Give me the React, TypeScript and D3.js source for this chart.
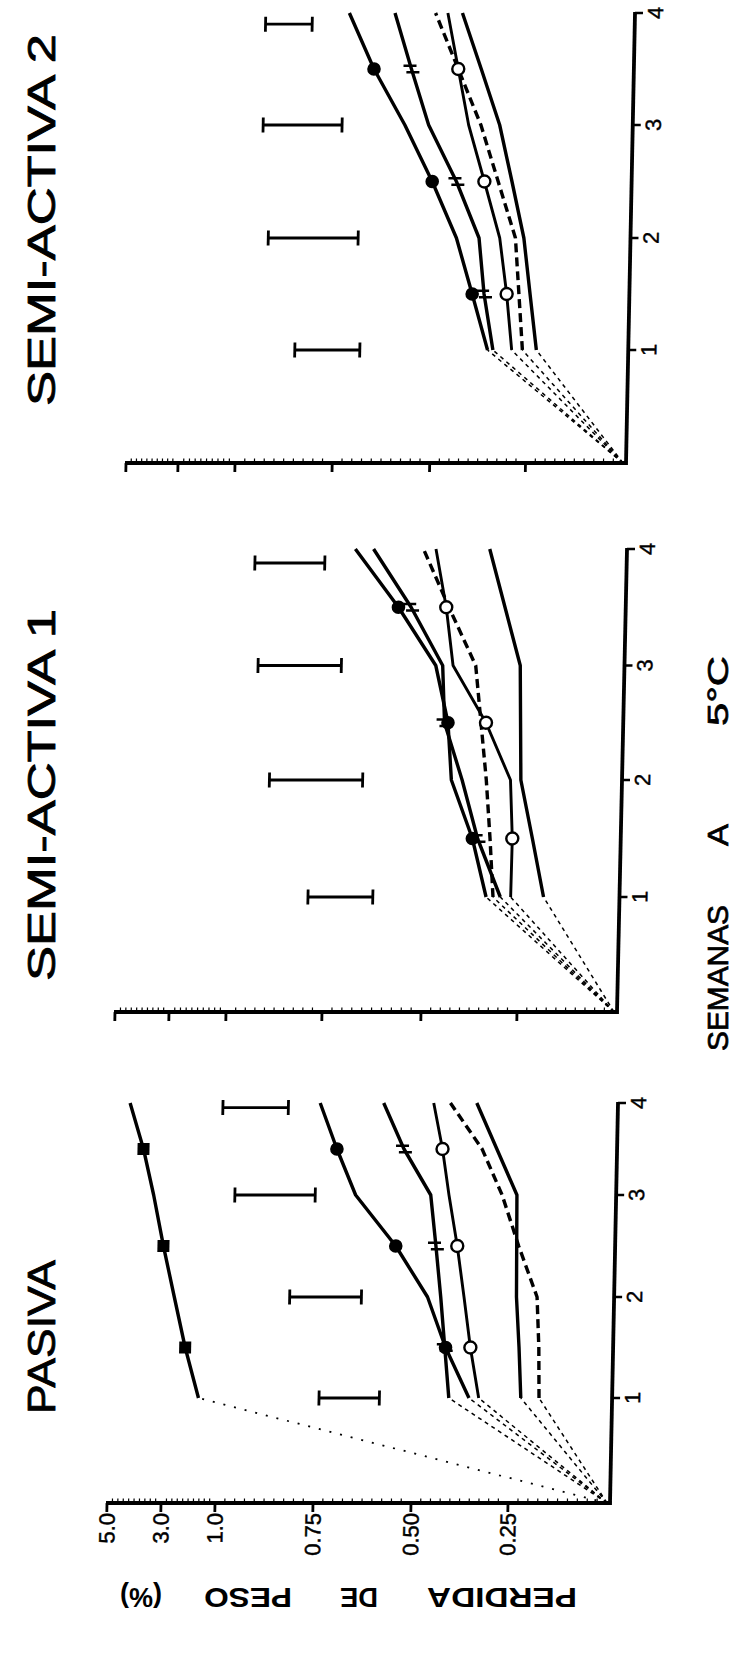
import React from 'react';
import * as d3 from 'd3';

// ---------- data ----------
const WEEKS = [1, 1.5, 2, 2.5, 3, 3.5, 4];
const MARKER_WEEKS = [1.5, 2.5, 3.5];
const WEEK_TICKS = [1, 2, 3, 4];
const WEEK_DOMAIN = [0, 1, 2, 3, 4];
const PCT_DOMAIN = [0, 0.25, 0.5, 0.75, 1, 3, 5];
const PCT_TICKS = [5, 3, 1, 0.75, 0.5, 0.25];
const PCT_TICK_LABELS = ['5.0', '3.0', '1.0', '0.75', '0.50', '0.25'];

// PASIVA
const pasivaF = [1.69, 2.22, 2.66, 3.1, 3.5, 3.91, 4.44];
const pasivaA = [0.356, 0.419, 0.468, 0.552, 0.657, 0.707, 0.752];
const pasivaB = [0.408, 0.421, 0.434, 0.449, 0.465, 0.536, 0.59];
const pasivaC = [0.331, 0.355, 0.374, 0.394, 0.418, 0.437, 0.462];
const pasivaD = [0.177, 0.18, 0.187, 0.236, 0.281, 0.335, 0.419];
const pasivaE = [0.223, 0.23, 0.239, 0.241, 0.243, 0.297, 0.351];
const pasivaBars = [
  { week: 1, lo: 0.586, hi: 0.74 },
  { week: 2, lo: 0.637, hi: 0.82 },
  { week: 3, lo: 0.76, hi: 0.965 },
  { week: 3.95, lo: 0.833, hi: 1.0 },
];

// SEMI-ACTIVA 1
const semi1A = [0.337, 0.376, 0.434, 0.446, 0.481, 0.579, 0.691];
const semi1B = [0.3, 0.3625, 0.406, 0.455, 0.463, 0.547, 0.645];
const semi1C = [0.273, 0.272, 0.28, 0.347, 0.436, 0.457, 0.487];
const semi1D = [0.319, 0.33, 0.343, 0.36, 0.377, 0.45, 0.519];
const semi1E = [0.188, 0.22, 0.253, 0.257, 0.261, 0.304, 0.347];
const semi1Bars = [
  { week: 1, lo: 0.628, hi: 0.793 },
  { week: 2, lo: 0.66, hi: 0.9 },
  { week: 3, lo: 0.72, hi: 0.936 },
  { week: 3.88, lo: 0.768, hi: 0.95 },
];

// SEMI-ACTIVA 2
const semi2A = [0.355, 0.398, 0.442, 0.508, 0.581, 0.663, 0.729];
const semi2B = [0.341, 0.367, 0.383, 0.445, 0.52, 0.567, 0.612];
const semi2C = [0.292, 0.308, 0.329, 0.372, 0.416, 0.446, 0.476];
const semi2D = [0.264, 0.276, 0.288, 0.336, 0.384, 0.446, 0.508];
const semi2E = [0.228, 0.247, 0.266, 0.3, 0.335, 0.386, 0.438];
const semi2Bars = [
  { week: 1, lo: 0.685, hi: 0.852 },
  { week: 2, lo: 0.695, hi: 0.926 },
  { week: 3, lo: 0.742, hi: 0.945 },
  { week: 3.9, lo: 0.824, hi: 0.944 },
];

// ---------- layout ----------
type Kind = 'square' | 'filled' | 'bar' | 'open' | 'dashed' | 'plain';
interface Series { kind: Kind; values: number[] }
interface PanelCfg {
  key: string;
  xRange: number[];
  yRange: number[];
  tilt: number;
  series: Series[];
  bars: { week: number; lo: number; hi: number }[];
  pctLabels: boolean;
}

const PANELS: PanelCfg[] = [
  {
    key: 'semi2',
    xRange: [623, 525.5, 429.7, 332.2, 235, 178, 126],
    yRange: [463, 350, 238, 125, 13],
    tilt: 9,
    series: [
      { kind: 'plain', values: semi2E },
      { kind: 'dashed', values: semi2D },
      { kind: 'open', values: semi2C },
      { kind: 'bar', values: semi2B },
      { kind: 'filled', values: semi2A },
    ],
    bars: semi2Bars,
    pctLabels: false,
  },
  {
    key: 'semi1',
    xRange: [614, 517, 421, 322, 226, 169, 115],
    yRange: [1012, 897, 780, 665.5, 549],
    tilt: 10,
    series: [
      { kind: 'plain', values: semi1E },
      { kind: 'dashed', values: semi1D },
      { kind: 'open', values: semi1C },
      { kind: 'bar', values: semi1B },
      { kind: 'filled', values: semi1A },
    ],
    bars: semi1Bars,
    pctLabels: false,
  },
  {
    key: 'pasiva',
    xRange: [607, 508, 411, 313, 215, 161, 107],
    yRange: [1503, 1398, 1297, 1195, 1103],
    tilt: 8,
    series: [
      { kind: 'plain', values: pasivaE },
      { kind: 'dashed', values: pasivaD },
      { kind: 'open', values: pasivaC },
      { kind: 'bar', values: pasivaB },
      { kind: 'filled', values: pasivaA },
      { kind: 'square', values: pasivaF },
    ],
    bars: pasivaBars,
    pctLabels: true,
  },
];

const TITLES = [
  { text: 'SEMI-ACTIVA 2', y: 220, len: 372 },
  { text: 'SEMI-ACTIVA 1', y: 795, len: 372 },
  { text: 'PASIVA', y: 1337, len: 154 },
];
const TITLE_BASELINE_X = 55;

const XLABEL_WORDS = [
  { text: 'PERDIDA', x: 502, len: 150 },
  { text: 'DE', x: 359, len: 38 },
  { text: 'PESO', x: 248, len: 88 },
  { text: '(%)', x: 141, len: 42 },
];

const WEEK_LABEL_WORDS = [
  { text: 'SEMANAS', y: 978, len: 146 },
  { text: 'A', y: 835, len: 22 },
  { text: '5°C', y: 691, len: 70 },
];

const INK = '#000';

function Panel({ p }: { p: PanelCfg }) {
  const x = d3.scaleLinear().domain(PCT_DOMAIN).range(p.xRange);
  const y = d3.scaleLinear().domain(WEEK_DOMAIN).range(p.yRange);
  const ox = x(0);
  const oy = y(0);
  const axisX = ox + 3;
  const skew = (-Math.atan(p.tilt / (oy - y(4))) * 180) / Math.PI;
  const line = d3
    .line<number>()
    .x((v) => x(v))
    .y((_, i) => y(WEEKS[i]));
  const minor = [...d3.range(0.025, 1, 0.025), ...d3.range(1.2, 5, 0.2)].filter(
    (v) => !PCT_TICKS.some((t) => Math.abs(t - v) < 1e-6)
  );

  return (
    <g transform={`translate(${ox},${oy}) skewX(${skew}) translate(${-ox},${-oy})`}>
      {/* error bars */}
      {p.bars.map((b, i) => {
        const yy = y(b.week);
        const x1 = x(b.hi);
        const x2 = x(b.lo);
        return (
          <g key={'eb' + i} stroke={INK} strokeWidth={2.8}>
            <line x1={x1} x2={x2} y1={yy} y2={yy} />
            <line x1={x1} x2={x1} y1={yy - 7.5} y2={yy + 7.5} />
            <line x1={x2} x2={x2} y1={yy - 7.5} y2={yy + 7.5} />
          </g>
        );
      })}

      {/* connectors from origin */}
      {p.series.map((s, i) => (
        <line
          key={'c' + i}
          x1={x(0)}
          y1={y(0)}
          x2={x(s.values[0])}
          y2={y(WEEKS[0])}
          stroke={INK}
          strokeWidth={s.kind === 'square' ? 1.8 : 1.5}
          strokeDasharray={s.kind === 'square' ? '2 9' : '4 4'}
        />
      ))}

      {/* lines */}
      {p.series.map((s, i) => (
        <path
          key={'l' + i}
          d={line(s.values) || ''}
          fill="none"
          stroke={INK}
          strokeWidth={s.kind === 'open' ? 2.9 : 3.4}
          strokeDasharray={s.kind === 'dashed' ? '9 5' : undefined}
          strokeLinejoin="round"
        />
      ))}

      {/* markers */}
      {p.series.map((s, i) =>
        MARKER_WEEKS.map((w) => {
          const idx = WEEKS.indexOf(w);
          const cx = x(s.values[idx]);
          const cy = y(w);
          const k = `m${i}-${w}`;
          if (s.kind === 'filled') return <circle key={k} cx={cx} cy={cy} r={6.8} fill={INK} />;
          if (s.kind === 'open')
            return <circle key={k} cx={cx} cy={cy} r={6} fill="#fff" stroke={INK} strokeWidth={2.4} />;
          if (s.kind === 'square')
            return <rect key={k} x={cx - 6} y={cy - 6} width={12} height={12} fill={INK} />;
          if (s.kind === 'bar')
            return (
              <g key={k} stroke={INK} strokeWidth={2.6}>
                <line x1={cx - 8} x2={cx + 5} y1={cy - 3.2} y2={cy - 3.2} />
                <line x1={cx - 5} x2={cx + 8} y1={cy + 3.2} y2={cy + 3.2} />
              </g>
            );
          return null;
        })
      )}

      {/* percent axis */}
      <line x1={x(5) - 1} x2={axisX + 1.5} y1={oy} y2={oy} stroke={INK} strokeWidth={3.8} />
      {minor.map((v, i) => (
        <line key={'mn' + i} x1={x(v)} x2={x(v)} y1={oy} y2={oy - 4.5} stroke={INK} strokeWidth={1.2} />
      ))}
      {PCT_TICKS.map((v, i) => (
        <line key={'mj' + i} x1={x(v)} x2={x(v)} y1={oy} y2={oy + 9} stroke={INK} strokeWidth={2.8} />
      ))}
      {p.pctLabels &&
        PCT_TICKS.map((v, i) => (
          <text
            key={'pl' + i}
            transform={`translate(${x(v) + 8},${oy + 10}) rotate(-90)`}
            textAnchor="end"
            fontSize={22}
            fill={INK}
            stroke={INK}
            strokeWidth={0.5}
          >
            {PCT_TICK_LABELS[i]}
          </text>
        ))}

      {/* week axis */}
      <line x1={axisX} x2={axisX} y1={oy + 1.9} y2={y(4) - 1} stroke={INK} strokeWidth={3.8} />
      {WEEK_TICKS.map((w) => (
        <line key={'wt' + w} x1={axisX} x2={axisX + 8} y1={y(w)} y2={y(w)} stroke={INK} strokeWidth={2.6} />
      ))}
      {WEEK_TICKS.map((w) => (
        <text
          key={'wl' + w}
          transform={`translate(${axisX + 28},${y(w)}) rotate(-90)`}
          textAnchor="middle"
          fontSize={22}
          fill={INK}
          stroke={INK}
          strokeWidth={0.4}
        >
          {w}
        </text>
      ))}
    </g>
  );
}

export default function App() {
  return (
    <svg
      width={735}
      height={1669}
      viewBox="0 0 735 1669"
      style={{ position: 'absolute', left: 0, top: 0, background: '#fff' }}
      fontFamily="'Liberation Sans', Arial, Helvetica, sans-serif"
    >
      <rect width={735} height={1669} fill="#fff" />
      {PANELS.map((p) => (
        <Panel key={p.key} p={p} />
      ))}

      {TITLES.map((t) => (
        <text
          key={t.text}
          transform={`translate(${TITLE_BASELINE_X},${t.y}) rotate(-90)`}
          textAnchor="middle"
          fontSize={38}
          textLength={t.len}
          lengthAdjust="spacingAndGlyphs"
          fill={INK}
          stroke={INK}
          strokeWidth={0.8}
        >
          {t.text}
        </text>
      ))}

      {WEEK_LABEL_WORDS.map((w) => (
        <text
          key={w.text}
          transform={`translate(${728},${w.y}) rotate(-90)`}
          textAnchor="middle"
          fontSize={29}
          textLength={w.len}
          lengthAdjust="spacingAndGlyphs"
          fill={INK}
          stroke={INK}
          strokeWidth={0.7}
        >
          {w.text}
        </text>
      ))}

      {XLABEL_WORDS.map((w) => (
        <text
          key={w.text}
          transform={`translate(${w.x},${1597}) rotate(180)`}
          textAnchor="middle"
          dominantBaseline="central"
          fontSize={27}
          fontWeight="bold"
          textLength={w.len}
          lengthAdjust="spacingAndGlyphs"
          fill={INK}
        >
          {w.text}
        </text>
      ))}
    </svg>
  );
}
